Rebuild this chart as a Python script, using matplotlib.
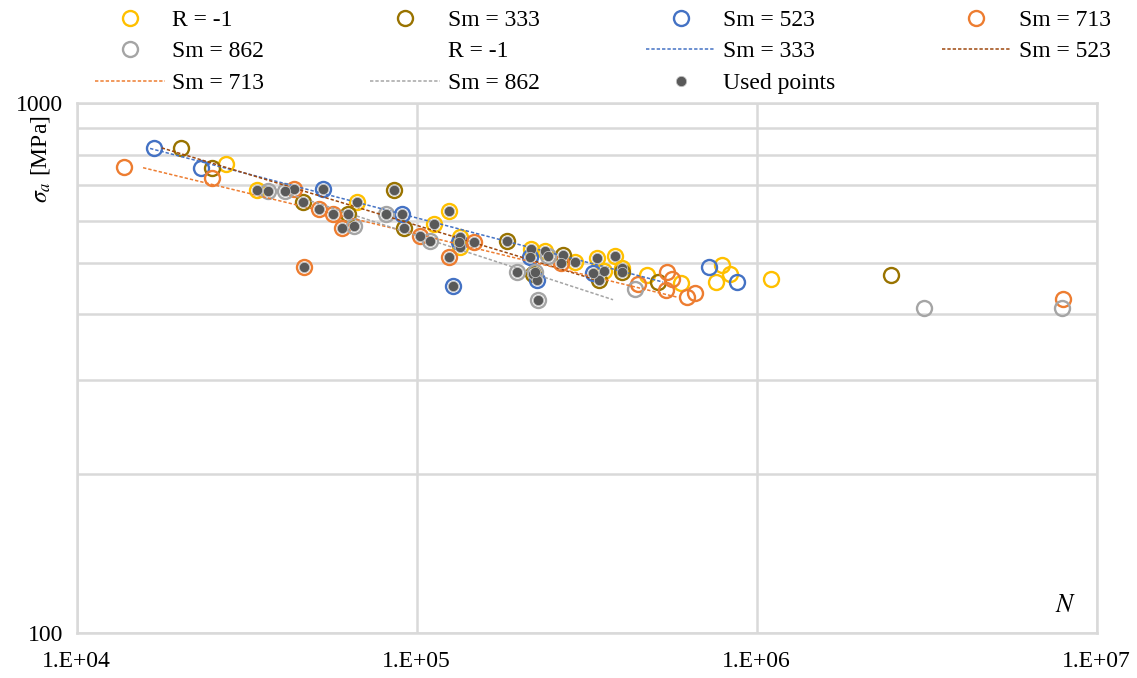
import matplotlib
matplotlib.use("Agg")
import matplotlib.pyplot as plt
from matplotlib.lines import Line2D
from matplotlib.ticker import FixedLocator, NullFormatter, NullLocator

plt.rcParams['font.family'] = ['Liberation Serif', 'DejaVu Serif']
plt.rcParams['mathtext.fontset'] = 'stix'

# ---------------- data ----------------
# R = -1 series
r_N = [27400, 33800, 66600, 124500, 112700, 134100, 134300, 216400, 238400, 292200,
       338300, 383000, 356300, 400800, 474800, 597700, 792000, 834700, 757500, 1100000]
r_S = [768, 686, 652, 626, 591, 559, 535, 531, 526, 501,
       510, 515, 483, 488, 474, 459, 495, 476, 461, 466]
r_used = [0, 1, 1, 1, 1, 1, 1, 1, 1, 1, 1, 1, 1, 1, 0, 0, 0, 0, 0, 0]

# Sm = 333
s333_N = [20270, 25050, 46400, 62700, 85960, 91930, 183900, 269400, 220300, 344400,
          400800, 513500, 2478000]
s333_S = [823, 756, 652, 618, 686, 583, 550, 517, 476, 464, 481, 461, 474]
s333_used = [0, 0, 1, 1, 1, 1, 1, 1, 1, 1, 1, 0, 0]

# Sm = 523
s523_N = [16880, 23210, 53130, 90700, 127600, 133500, 215400, 225400, 330700, 725300, 873400]
s523_S = [824, 756, 688, 618, 452, 548, 513, 464, 479, 492, 460]
s523_used = [0, 0, 1, 1, 1, 1, 1, 1, 1, 0, 0]

# Sm = 713
s713_N = [13800, 25050, 43650, 51490, 56850, 60170, 46710, 102200, 147400, 124500,
          265100, 448500, 545800, 564700, 540000, 622500, 658300, 7978000]
s713_S = [757, 722, 689, 632, 619, 582, 491, 563, 548, 513,
          499, 456, 480, 466, 444, 431, 438, 427]
s713_used = [0, 0, 1, 1, 1, 1, 1, 1, 1, 1, 1, 0, 0, 0, 0, 0, 0, 0]

# Sm = 862
s862_N = [36600, 40990, 65400, 81230, 109400, 197600, 222800, 227900, 243800, 438600,
          3112000, 7922000]
s862_S = [684, 684, 588, 617, 550, 481, 481, 426, 515, 446, 411, 411]
s862_used = [1, 1, 1, 1, 1, 1, 1, 1, 1, 0, 0, 0]

# trend lines (start / end)
t333_N = [16430, 530200]
t333_S = [822, 460]
t523_N = [17780, 346000]
t523_S = [824, 462]
t713_N = [15670, 581700]
t713_S = [756, 431]
t862_N = [35800, 377900]
t862_S = [698, 426]

# ---------------- style ----------------
C_YEL = '#FFC000'
C_OLV = '#997300'
C_BLU = '#4472C4'
C_ORG = '#ED7D31'
C_GRY = '#A5A5A5'
C_BRN = '#9E480E'
C_USED = '#595959'
GRID = '#D9D9D9'
FS = 17

fig = plt.figure(figsize=(11.37, 6.78), dpi=100)
ax = fig.add_axes([0.0675, 0.0659, 0.8971, 0.7817])
ax.set_xscale('log')
ax.set_yscale('log')
ax.set_xlim(1e4, 1e7)
ax.set_ylim(100, 1000)

mk = dict(linestyle='none', marker='o', markersize=10.8, markerfacecolor='none',
          markeredgewidth=1.7)
series = [
    (r_N, r_S, r_used, C_YEL, 'R = -1'),
    (s333_N, s333_S, s333_used, C_OLV, 'Sm = 333'),
    (s523_N, s523_S, s523_used, C_BLU, 'Sm = 523'),
    (s713_N, s713_S, s713_used, C_ORG, 'Sm = 713'),
    (s862_N, s862_S, s862_used, C_GRY, 'Sm = 862'),
]
marker_handles = []
for N, S, U, c, lab in series:
    h, = ax.plot(N, S, color=c, markeredgecolor=c, zorder=3, label=lab, **mk)
    marker_handles.append(h)

dash = (0, (2.2, 1.3))
trends = [
    (t333_N, t333_S, C_BLU, 'Sm = 333'),
    (t523_N, t523_S, C_BRN, 'Sm = 523'),
    (t713_N, t713_S, C_ORG, 'Sm = 713'),
    (t862_N, t862_S, C_GRY, 'Sm = 862'),
]
line_handles = []
for N, S, c, lab in trends:
    h, = ax.plot(N, S, color=c, linestyle=dash, linewidth=1.1, zorder=4, label=lab)
    line_handles.append(h)

used_N, used_S = [], []
for N, S, U, c, lab in series:
    for n, s, u in zip(N, S, U):
        if u:
            used_N.append(n)
            used_S.append(s)
uh, = ax.plot(used_N, used_S, linestyle='none', marker='o', markersize=7.4,
              color=C_USED, markeredgecolor='#BFBFBF', markeredgewidth=0.6, zorder=5,
              label='Used points')

# axes styling
ax.xaxis.set_major_locator(FixedLocator([1e4, 1e5, 1e6, 1e7]))
ax.xaxis.set_minor_locator(NullLocator())
ax.set_xticklabels(['1.E+04', '1.E+05', '1.E+06', '1.E+07'])
ax.yaxis.set_major_locator(FixedLocator([100, 1000]))
ax.yaxis.set_minor_locator(FixedLocator([200, 300, 400, 500, 600, 700, 800, 900]))
ax.yaxis.set_minor_formatter(NullFormatter())
ax.set_yticklabels(['100', '1000'])
ax.tick_params(which='both', length=0, labelsize=FS, colors='black')
ax.tick_params(axis='x', pad=13)
ax.tick_params(axis='y', pad=10)
ax.grid(True, which='major', axis='x', color=GRID, linewidth=1.8)
ax.grid(True, which='both', axis='y', color=GRID, linewidth=1.8)
ax.set_axisbelow(True)
for sp in ax.spines.values():
    sp.set_color(GRID)
    sp.set_linewidth(1.8)

fig.text(40 / 1137, 1 - 159 / 678, r'$\sigma_a$ [MPa]', rotation=90,
         ha='center', va='center', fontsize=FS)
fig.text(1066 / 1137, 1 - 606 / 678, r'$N$', ha='center', va='center', fontsize=FS + 1.5)

# legend (row-major arrangement in 4 columns)
blank = Line2D([], [], color='none')
blank.set_label('R = -1')
H = [marker_handles[0], marker_handles[1], marker_handles[2], marker_handles[3],
     marker_handles[4], blank, line_handles[0], line_handles[1],
     line_handles[2], line_handles[3], uh]
L = [h.get_label() for h in H]
order = [0, 4, 8, 1, 5, 9, 2, 6, 10, 3, 7]
fig.legend([H[i] for i in order], [L[i] for i in order], ncol=4,
           loc='upper left', bbox_to_anchor=(95 / 1137, 0.986), frameon=False,
           fontsize=FS, handlelength=2.95, handletextpad=0.32, columnspacing=4.5,
           labelspacing=0.42, borderaxespad=0.0, borderpad=0.0)

fig.savefig('out.png', dpi=100)
